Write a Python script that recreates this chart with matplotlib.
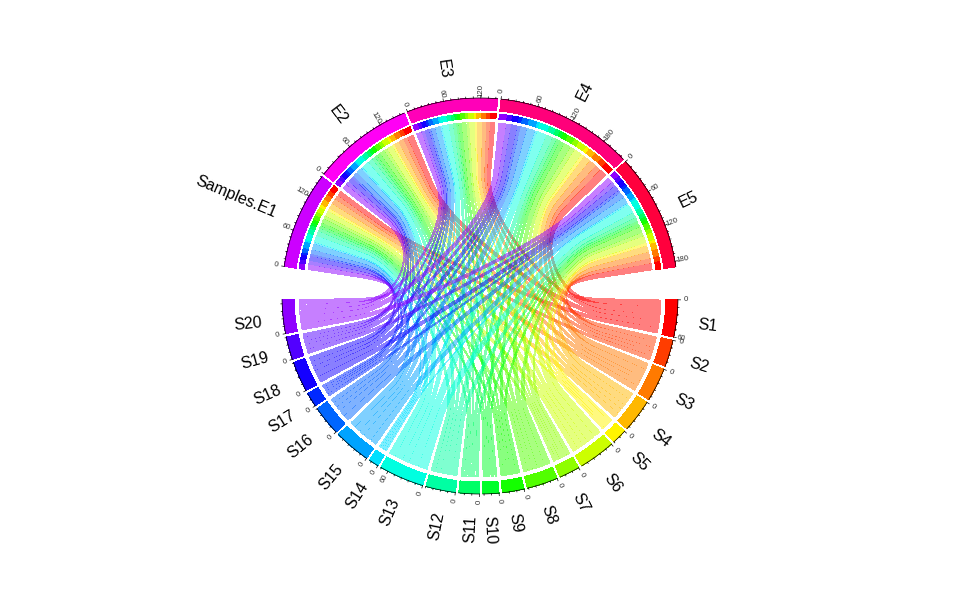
import colorsys
import numpy as np
import matplotlib
matplotlib.use("Agg")
import matplotlib.pyplot as plt

plt.rcParams['font.family'] = ['Liberation Sans', 'DejaVu Sans']

samples = ["S%d" % i for i in range(1, 21)]
exposures = ["Samples.E1", "E2", "E3", "E4", "E5"]

# link widths, one list per exposure, S1..S20
e1 = [10, 8, 10, 10, 5, 10, 6, 8, 6, 5, 6, 9, 12, 3, 11, 8, 4, 9, 7, 10]
e2 = [12, 8, 10, 9, 4, 11, 6, 9, 7, 5, 6, 9, 14, 3, 11, 9, 4, 9, 7, 10]
e3 = [10, 7, 8, 9, 4, 10, 5, 9, 6, 4, 6, 8, 12, 3, 10, 8, 4, 8, 6, 10]
e4 = [15, 11, 14, 13, 6, 15, 9, 13, 9, 7, 8, 12, 18, 4, 15, 12, 6, 12, 9, 14]
e5 = [13, 9, 12, 12, 5, 13, 7, 11, 7, 5, 7, 10, 17, 3, 12, 11, 5, 11, 8, 11]
matrix = np.array([e1, e2, e3, e4, e5], dtype=float)

CY_TOP = 296.0
START = 171.4
GAP_BIG, GAP = 9.6, 1.0
R_OUT, R_IN = 198.0, 186.0
R_SM_OUT, R_SM_IN = 183.0, 178.0
R_LINK_E, R_LINK_S = 174.0, 181.0
CURVE_S0, CURVE_K = 0.4, 1.8
LINK_INSET = 1.0       # units trimmed from each side of a link end
LINK_ALPHA = 0.5
NAME_DROP = 3.5        # shift of sector names towards the foot of their text

hues = [colorsys.hsv_to_rgb(i / 25, 1, 1) for i in range(25)]
s_cols = hues[:20]
e_cols = hues[20:]

fig = plt.figure(figsize=(9.6, 5.93), dpi=100)
ax = fig.add_axes([0, 0, 1, 1])
ax.set_xlim(-480, 480)
ax.set_ylim(-297, CY_TOP)
ax.axis('off')

e_tot = matrix.sum(axis=1)
s_tot = matrix.sum(axis=0)
scale = (360 - 2 * GAP_BIG - 23 * GAP) / (e_tot.sum() + s_tot.sum())


def xy(deg, r):
    t = np.radians(deg)
    return r * np.cos(t), r * np.sin(t)


def band(a0, a1, r0, r1, color, **kw):
    t = np.linspace(a0, a1, max(3, int(abs(a1 - a0) * 6)))
    x0, y0 = xy(t, r0)
    x1, y1 = xy(t[::-1], r1)
    ax.fill(np.r_[x0, x1], np.r_[y0, y1], color=color, lw=0, antialiased=False, **kw)


_s = np.linspace(0, 1, 50)
_y = 0.25 * (np.clip(_s - CURVE_S0, 0, None) / (1 - CURVE_S0)) ** CURVE_K
_x = 1 - 0.75 * _s
W_NEAR = np.r_[_x, _y[::-1][1:]]
W_FAR = W_NEAR[::-1]


def curve(a, ra, b, rb):
    pa = np.array(xy(a, ra))[:, None]
    pb = np.array(xy(b, rb))[:, None]
    return pa * W_NEAR + pb * W_FAR


e_start, s_start = [], []
ang = START
for v in e_tot:
    e_start.append(ang)
    ang -= v * scale + GAP
ang += GAP - GAP_BIG
for v in s_tot:
    s_start.append(ang)
    ang -= v * scale + GAP


def axis_and_labels(a0, total, name, col):
    a1 = a0 - total * scale
    band(a0, a1, R_OUT, R_IN, col, zorder=3)
    t = np.linspace(a0, a1, 80)
    ax.plot(*xy(t, R_OUT), color='k', lw=0.5, zorder=4)
    for u in np.arange(0, total + 0.01, 12):
        th = a0 - u * scale
        major = int(u) % 60 == 0
        rr = R_OUT + (2.6 if major else 1.4)
        p, q = xy(th, R_OUT), xy(th, rr)
        ax.plot([p[0], q[0]], [p[1], q[1]], color='k', lw=0.5, zorder=4)
        if major:
            px, py = xy(th, R_OUT + 8)
            norm = (th + 180) % 360 - 180
            rot = norm if -90 < norm < 90 else norm + 180
            ax.text(px, py, str(int(u)), fontsize=5.6, rotation=rot, color='#333333',
                    ha='center', va='center', rotation_mode='anchor')
    mid = (a0 + a1) / 2
    px, py = xy(mid, 220)
    norm = (mid + 180) % 360 - 180
    right = -90 < norm < 90
    rot = norm if right else norm + 180
    px += NAME_DROP * np.sin(np.radians(rot))
    py -= NAME_DROP * np.cos(np.radians(rot))
    ax.text(px, py, name, fontsize=11.5, rotation=rot,
            ha='left' if right else 'right', va='center', rotation_mode='anchor')


for i, name in enumerate(exposures):
    axis_and_labels(e_start[i], e_tot[i], name, e_cols[i])
for j, name in enumerate(samples):
    axis_and_labels(s_start[j], s_tot[j], name, s_cols[j])

inset = LINK_INSET * scale
e_pos = {}
for i in range(5):
    a = e_start[i]
    for j in range(19, -1, -1):
        w = matrix[i, j] * scale
        e_pos[(i, j)] = (a - inset, a - w + inset)
        band(a, a - w, R_SM_OUT, R_SM_IN, s_cols[j], zorder=3)
        a -= w
s_pos = {}
for j in range(20):
    a = s_start[j]
    for i in range(4, -1, -1):
        w = matrix[i, j] * scale
        s_pos[(i, j)] = (a - inset, a - w + inset)
        a -= w

for j in range(20):
    for i in range(5):
        s0, s1 = s_pos[(i, j)]
        e0, e1_ = e_pos[(i, j)]
        xs, ys = xy(np.linspace(s0, s1, 12), R_LINK_S)
        xe, ye = xy(np.linspace(e0, e1_, 12), R_LINK_E)
        b1 = curve(s1, R_LINK_S, e0, R_LINK_E)
        b2 = curve(e1_, R_LINK_E, s0, R_LINK_S)
        ax.fill(np.r_[xs, b1[0], xe, b2[0]], np.r_[ys, b1[1], ye, b2[1]],
                color=s_cols[j], alpha=LINK_ALPHA, lw=0, antialiased=False, zorder=2)

fig.savefig("out.png", dpi=100)
